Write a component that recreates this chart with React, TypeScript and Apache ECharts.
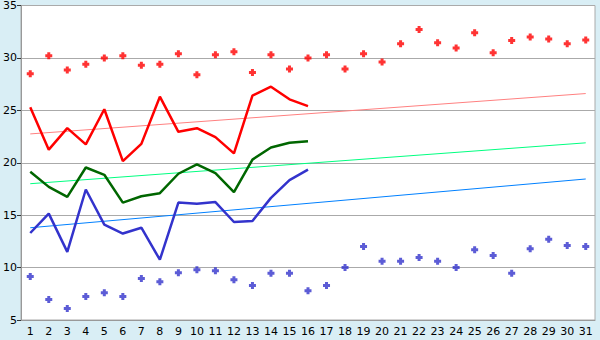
import React, { useEffect, useRef } from "react";
import * as echarts from "echarts";

const days = Array.from({ length: 31 }, (_, i) => String(i + 1));

const highDots = [28.5, 30.2, 28.85, 29.4, 30.0, 30.2, 29.3, 29.4, 30.4, 28.4, 30.3, 30.6, 28.6, 30.3, 28.95, 30.0, 30.3, 28.95, 30.4, 29.6, 31.35, 32.7, 31.45, 30.95, 32.4, 30.5, 31.65, 32.0, 31.8, 31.35, 31.7];
const lowDots = [9.15, 6.95, 6.1, 7.25, 7.6, 7.25, 8.95, 8.65, 9.5, 9.8, 9.7, 8.85, 8.3, 9.45, 9.45, 7.8, 8.3, 10.0, 12.0, 10.6, 10.6, 10.95, 10.6, 10.0, 11.7, 11.15, 9.45, 11.8, 12.7, 12.1, 12.0];
const redLine = [25.3, 21.25, 23.3, 21.75, 25.1, 20.15, 21.8, 26.3, 22.95, 23.3, 22.45, 20.9, 26.4, 27.25, 26.05, 25.4];
const greenLine = [19.15, 17.7, 16.75, 19.55, 18.85, 16.2, 16.8, 17.1, 18.95, 19.85, 19.0, 17.2, 20.3, 21.45, 21.9, 22.05];
const blueLine = [13.3, 15.15, 11.5, 17.45, 14.1, 13.25, 13.8, 10.75, 16.2, 16.1, 16.25, 14.35, 14.45, 16.65, 18.35, 19.35];
const redTrend = [22.75, 26.6];
const greenTrend = [18.0, 21.9];
const blueTrend = [13.8, 18.45];
const yTicks = [5, 10, 15, 20, 25, 30, 35];

const plus = "path://M2,0H5V2H7V5H5V7H2V5H0V2H2Z";

export default function App() {
  const ref = useRef<HTMLDivElement>(null);
  useEffect(() => {
    if (!ref.current) return;
    const chart = echarts.init(ref.current, null, { renderer: "svg" });
    const trend = (vals: number[], color: string, name: string) => ({
      name,
      type: "line",
      data: [[0, vals[0]], [days.length - 1, vals[1]]],
      symbol: "none",
      lineStyle: { color, width: 1 },
      z: 2,
    });
    const mainLine = (vals: number[], color: string, name: string) => ({
      name,
      type: "line",
      data: vals,
      symbol: "none",
      lineStyle: { color, width: 2.5 },
      z: 3,
    });
    const dots = (vals: number[], color: string, name: string) => ({
      name,
      type: "scatter",
      data: vals,
      symbol: plus,
      symbolSize: 7,
      itemStyle: { color },
      z: 4,
    });
    chart.setOption({
      animation: false,
      backgroundColor: "#D9EEF5",
      textStyle: { fontFamily: "DejaVu Sans" },
      grid: {
        left: 20,
        right: 5,
        top: 5,
        bottom: 20,
        show: true,
        backgroundColor: "#ffffff",
        borderColor: "#aaaaaa",
        borderWidth: 1,
      },
      xAxis: {
        type: "category",
        data: days,
        boundaryGap: true,
        axisLine: { lineStyle: { color: "#999999", width: 1 } },
        axisTick: { alignWithLabel: true, length: 5, lineStyle: { color: "#333333" } },
        axisLabel: { color: "#000000", fontSize: 11, margin: 6, interval: 0 },
      },
      yAxis: {
        type: "value",
        min: yTicks[0],
        max: yTicks[yTicks.length - 1],
        interval: 5,
        axisLine: { show: true, lineStyle: { color: "#999999" } },
        axisTick: { show: true, length: 4, lineStyle: { color: "#333333" } },
        axisLabel: { color: "#000000", fontSize: 11, margin: 4 },
        splitLine: { lineStyle: { color: "#aaaaaa", width: 1 } },
      },
      series: [
        trend(redTrend, "#FF8080", "redTrend"),
        trend(greenTrend, "#00FF80", "greenTrend"),
        trend(blueTrend, "#0080FF", "blueTrend"),
        mainLine(redLine, "#FF0000", "red"),
        mainLine(greenLine, "#006600", "green"),
        mainLine(blueLine, "#3333CC", "blue"),
        dots(highDots, "#FF0000", "high"),
        dots(lowDots, "#3333CC", "low"),
      ],
    });
    return () => chart.dispose();
  }, []);
  return (
    <div
      ref={ref}
      style={{ position: "absolute", left: 0, top: 0, width: 600, height: 340 }}
    />
  );
}
